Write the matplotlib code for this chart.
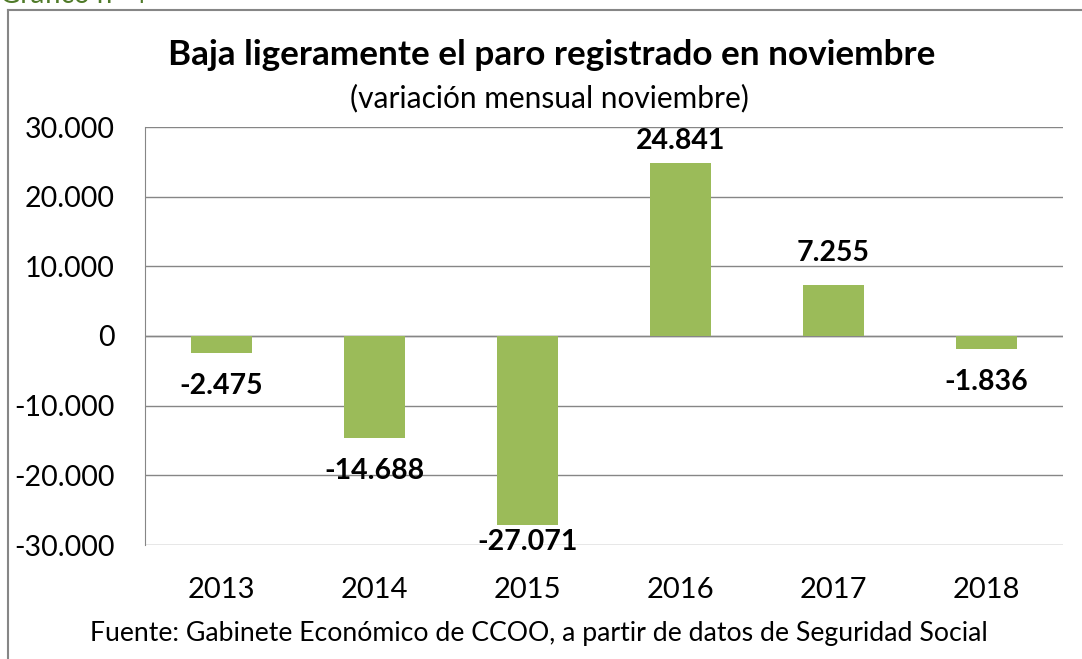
import matplotlib
matplotlib.use("Agg")
import matplotlib.pyplot as plt
from matplotlib.lines import Line2D
from matplotlib.ticker import FuncFormatter

years = ["2013", "2014", "2015", "2016", "2017", "2018"]
values = [-2475, -14688, -27071, 24841, 7255, -1836]
yticks = [-30000, -20000, -10000, 0, 10000, 20000, 30000]

title = "Baja ligeramente el paro registrado en noviembre"
subtitle = "(variación mensual noviembre)"
source = "Fuente: Gabinete Económico de CCOO, a partir de datos de Seguridad Social"
chart_no = "Gráfico nº 4"

FONT = ["Lato", "DejaVu Sans"]
plt.rcParams["font.family"] = FONT

def fmt(v):
    s = f"{abs(int(v)):,}".replace(",", ".")
    return ("-" if v < 0 else "") + s

W, H = 1082, 659
fig = plt.figure(figsize=(W/100, H/100), dpi=100)
ax = fig.add_axes([145/W, 1-545/H, (1063-145)/W, (545-127)/H])

x = list(range(len(years)))
ax.bar(x, values, width=0.4, color="#9BBB59", zorder=3)
ax.set_xlim(-0.5, len(years)-0.5)
ax.set_ylim(-30000, 30000)
ax.set_yticks(yticks)
ax.yaxis.set_major_formatter(FuncFormatter(lambda v, p: fmt(v)))
ax.set_xticks(x)
ax.set_xticklabels(years)
ax.grid(axis="y", color="#868686", linewidth=1.0, zorder=0)
ax.tick_params(axis="both", length=0, colors="black")
ax.tick_params(axis="x", pad=23, labelsize=21)
ax.tick_params(axis="y", pad=22, labelsize=20.5)
for s in ["top", "right", "bottom"]:
    ax.spines[s].set_visible(False)
ax.spines["left"].set_color("#868686")
ax.axhline(0, color="#868686", linewidth=1.0, zorder=2)

# data labels: outside end, kept within the plot area
fig.canvas.draw()
inv = ax.transData.inverted()
top_px = ax.transData.transform((0, 30000))[1]
bot_px = ax.transData.transform((0, -30000))[1]
for xi, v in zip(x, values):
    ypx = ax.transData.transform((xi, v))[1]
    if v >= 0:
        c = min(ypx + 32, top_px - 14)
    else:
        c = max(ypx - 33, bot_px + 3)
    yd = inv.transform((0, c))[1]
    ax.text(xi, yd, fmt(v), ha="center", va="center", fontsize=20.5,
            fontweight="bold", zorder=4)

fig.text(552/W, 1-55/H, title, ha="center", va="center", fontsize=25.3, fontweight="bold")
fig.text(549/W, 1-98/H, subtitle, ha="center", va="center", fontsize=21.5)
fig.text(539/W, 1-633/H, source, ha="center", va="center", fontsize=19.2)
fig.text(0.0, 1.0+5/H, chart_no, ha="left", va="center", fontsize=20,
         color="#4F7A28")

fig.add_artist(Line2D([8/W, 8/W], [0, 1-10/H], transform=fig.transFigure, color="#868686", linewidth=1.5))
fig.add_artist(Line2D([8/W, 1], [1-10/H, 1-10/H], transform=fig.transFigure, color="#868686", linewidth=1.5))

fig.savefig("out.png", dpi=100)
